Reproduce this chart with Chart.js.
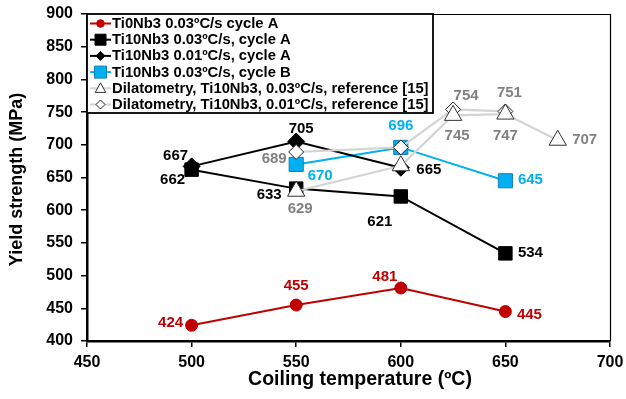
<!DOCTYPE html>
<html><head><meta charset="utf-8">
<script src="https://cdn.jsdelivr.net/npm/chart.js@4.4.1/dist/chart.umd.min.js"></script>
<style>html,body{margin:0;padding:0;background:#fff}canvas{display:block}</style>
</head><body>
<canvas id="c" width="626" height="399"></canvas>
<script>
// ---- data ----
const xTickValues = [450, 500, 550, 600, 650, 700];
const yTickValues = [400, 450, 500, 550, 600, 650, 700, 750, 800, 850, 900];

const seriesNames = [
  'Ti0Nb3 0.03ºC/s cycle A',
  'Ti10Nb3 0.03ºC/s, cycle A',
  'Ti10Nb3 0.01ºC/s, cycle A',
  'Ti10Nb3 0.03ºC/s, cycle B',
  'Dilatometry, Ti10Nb3, 0.03ºC/s, reference [15]',
  'Dilatometry, Ti10Nb3, 0.01ºC/s, reference [15]'
];

const tempsTi0Nb3A = [500, 550, 600, 650];
const ysTi0Nb3_003A = [424, 455, 481, 445];

const tempsTi10Nb3_003A = [500, 550, 600, 650];
const ysTi10Nb3_003A = [662, 633, 621, 534];

const tempsTi10Nb3_001A = [500, 550, 600];
const ysTi10Nb3_001A = [667, 705, 665];

const tempsTi10Nb3_003B = [550, 600, 650];
const ysTi10Nb3_003B = [670, 696, 645];

const tempsDil003 = [550, 600, 625, 650, 675];
const ysDil003 = [629, 668, 745, 747, 707];

const tempsDil001 = [550, 600, 625, 650];
const ysDil001 = [689, 696, 754, 751];

// ---- label placement (layout only, pixel offsets from point; null = no label) ----
const lblTi0 = [[-21,-2],[0,-19],[-16,-11],[24,3]];
const lbl003A = [[-19,10],[-27,6],[-21,25],[25,-1]];
const lbl001A = [[-16,-11],[5,-13],[28,2]];
const lbl003B = [[24,11],[0,-22],[25,-1]];
const lblDil003 = [[4,18],null,[4,20],[0,22],[27,0]];
const lblDil001 = [[-22,7],null,[13,-14],[4,-19]];

const FONT = "'Liberation Sans', Arial, Helvetica, sans-serif";
const RED = '#C00000', BLUE = '#00B0F0', GRAYLINE = '#D4D4D4', GRAYTXT = '#808080';

const pts = (xs, ys) => xs.map((x, i) => ({x: x, y: ys[i]}));

const datasets = [
  {label: seriesNames[0], data: pts(tempsTi0Nb3A, ysTi0Nb3_003A), borderColor: RED, backgroundColor: RED,
   pointStyle: 'circle', pointRadius: 6, pointBorderWidth: 1, borderWidth: 2, order: 1,
   lblOff: lblTi0, lblColor: RED, lgRadius: 3.8},
  {label: seriesNames[1], data: pts(tempsTi10Nb3_003A, ysTi10Nb3_003A), borderColor: '#000', backgroundColor: '#000',
   pointStyle: 'rect', pointRadius: 9.5, pointBorderWidth: 1, borderWidth: 2, order: 1,
   lblOff: lbl003A, lblColor: '#000', lgRadius: 5.5},
  {label: seriesNames[2], data: pts(tempsTi10Nb3_001A, ysTi10Nb3_001A), borderColor: '#000', backgroundColor: '#000',
   pointStyle: 'rectRot', pointRadius: 8.5, pointBorderWidth: 1, borderWidth: 2, order: 1,
   lblOff: lbl001A, lblColor: '#000', lgRadius: 4.5},
  {label: seriesNames[3], data: pts(tempsTi10Nb3_003B, ysTi10Nb3_003B), borderColor: BLUE, backgroundColor: BLUE,
   pointBorderColor: '#1a7fb8', pointStyle: 'rect', pointRadius: 10, pointBorderWidth: 1, borderWidth: 2, order: 1,
   lblOff: lbl003B, lblColor: BLUE, lgRadius: 6},
  {label: seriesNames[4], data: pts(tempsDil003, ysDil003), borderColor: GRAYLINE, backgroundColor: '#fff',
   pointBorderColor: '#333', pointStyle: 'triangle', pointRadius: 10, pointBorderWidth: 1, borderWidth: 2.2, order: 0,
   lblOff: lblDil003, lblColor: GRAYTXT, lgRadius: 5.5},
  {label: seriesNames[5], data: pts(tempsDil001, ysDil001), borderColor: GRAYLINE, backgroundColor: '#fff',
   pointBorderColor: '#222', pointStyle: 'rectRot', pointRadius: 7.5, pointBorderWidth: 1, borderWidth: 2.2, order: 0,
   lblOff: lblDil001, lblColor: GRAYTXT, lgRadius: 4.5}
];

function shape(ctx, style, x, y, r) {
  ctx.beginPath();
  if (style === 'circle') { ctx.arc(x, y, r, 0, Math.PI * 2); }
  else if (style === 'rect') { ctx.rect(x - r, y - r, 2 * r, 2 * r); }
  else if (style === 'rectRot') { ctx.moveTo(x, y - r); ctx.lineTo(x + r, y); ctx.lineTo(x, y + r); ctx.lineTo(x - r, y); ctx.closePath(); }
  else if (style === 'triangle') { ctx.moveTo(x, y - r); ctx.lineTo(x + r * 0.95, y + r * 0.75); ctx.lineTo(x - r * 0.95, y + r * 0.75); ctx.closePath(); }
}

const bgPlugin = {
  id: 'bg',
  beforeDraw(chart) {
    const c = chart.ctx; c.save(); c.fillStyle = '#fff'; c.fillRect(0, 0, chart.width, chart.height); c.restore();
  }
};

const labelPlugin = {
  id: 'pointLabels',
  afterDatasetsDraw(chart) {
    const c = chart.ctx;
    c.save();
    c.font = 'bold 15px ' + FONT;
    c.textAlign = 'center';
    c.textBaseline = 'middle';
    chart.data.datasets.forEach((ds, di) => {
      const meta = chart.getDatasetMeta(di);
      meta.data.forEach((el, i) => {
        const off = ds.lblOff && ds.lblOff[i];
        if (!off) return;
        c.fillStyle = ds.lblColor;
        c.fillText(String(ds.data[i].y), el.x + off[0], el.y + off[1]);
      });
    });
    c.restore();
  }
};

const framePlugin = {
  id: 'frame',
  afterDraw(chart) {
    const a = chart.chartArea, c = chart.ctx;
    c.save();
    // thin top/right frame
    c.strokeStyle = '#000'; c.lineWidth = 1.2;
    c.beginPath(); c.moveTo(a.left, a.top + 0.5); c.lineTo(a.right + 0.5, a.top + 0.5); c.lineTo(a.right + 0.5, a.bottom); c.stroke();
    // legend
    const lx = a.left, ly = a.top, lw = 346, lh = 99;
    c.fillStyle = '#fff'; c.fillRect(lx, ly, lw, lh);
    c.lineWidth = 1.8; c.strokeRect(lx, ly, lw, lh);
    c.font = 'bold 14.8px ' + FONT; c.textAlign = 'left'; c.textBaseline = 'middle';
    chart.data.datasets.forEach((ds, i) => {
      const yy = ly + 9.5 + i * 16.2;
      c.strokeStyle = ds.borderColor; c.lineWidth = 2;
      c.beginPath(); c.moveTo(lx + 3, yy); c.lineTo(lx + 24, yy); c.stroke();
      shape(c, ds.pointStyle, lx + 13.5, yy, ds.lgRadius);
      c.fillStyle = ds.backgroundColor; c.fill();
      c.lineWidth = 1; c.strokeStyle = ds.pointBorderColor || ds.borderColor; c.stroke();
      c.fillStyle = '#000';
      c.fillText(ds.label, lx + 25, yy + 0.5);
    });
    // axis titles
    c.fillStyle = '#000'; c.textAlign = 'center'; c.textBaseline = 'middle';
    c.font = 'bold 19.5px ' + FONT;
    c.fillText('Coiling temperature (ºC)', 360, 380);
    c.save();
    c.translate(17, (a.top + a.bottom) / 2 + 2);
    c.rotate(-Math.PI / 2);
    c.font = 'bold 18px ' + FONT;
    c.fillText('Yield strength (MPa)', 0, 0);
    c.restore();
    c.restore();
  }
};

new Chart(document.getElementById('c'), {
  type: 'line',
  data: {datasets: datasets},
  options: {
    responsive: false, devicePixelRatio: 1, animation: false,
    layout: {padding: {top: 14, right: 16, left: 0, bottom: 0}, autoPadding: false},
    plugins: {legend: {display: false}, tooltip: {enabled: false}},
    elements: {line: {tension: 0}},
    scales: {
      x: {
        type: 'linear', min: 450, max: 700,
        afterBuildTicks: s => { s.ticks = xTickValues.map(v => ({value: v})); },
        afterFit: s => { s.height = 58; s.paddingLeft = 0; s.paddingRight = 0; },
        ticks: {font: {family: FONT, size: 16, weight: 'bold'}, color: '#000', padding: 6, maxRotation: 0, autoSkip: false},
        grid: {drawOnChartArea: false, drawTicks: true, tickLength: 6, color: '#000', lineWidth: 1.5},
        border: {display: true, color: '#000', width: 2.5}
      },
      y: {
        type: 'linear', min: 400, max: 900,
        afterBuildTicks: s => { s.ticks = yTickValues.map(v => ({value: v})); },
        afterFit: s => { s.width = 87; s.paddingTop = 0; s.paddingBottom = 0; },
        ticks: {font: {family: FONT, size: 16, weight: 'bold'}, color: '#000', padding: 8, autoSkip: false},
        grid: {drawOnChartArea: false, drawTicks: true, tickLength: 6, color: '#000', lineWidth: 1.5},
        border: {display: true, color: '#000', width: 2.5}
      }
    }
  },
  plugins: [bgPlugin, labelPlugin, framePlugin]
});
</script>
</body></html>
